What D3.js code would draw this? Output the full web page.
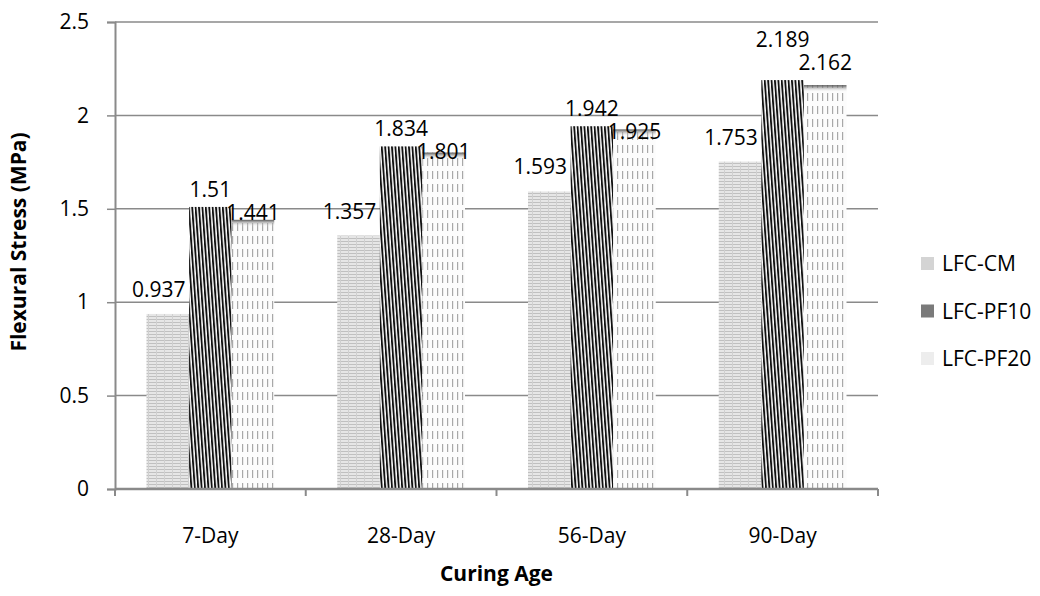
<!DOCTYPE html>
<html>
<head>
<meta charset="utf-8">
<script src="https://cdn.jsdelivr.net/npm/d3@7"></script>
<style>
body { margin: 0; background: #fff; }
svg { font-family: "Open Sans", "Noto Sans", sans-serif; }
</style>
</head>
<body>
<svg width="1040" height="596"></svg>
<script>
var categories = ["7-Day", "28-Day", "56-Day", "90-Day"];
var seriesNames = ["LFC-CM", "LFC-PF10", "LFC-PF20"];
var cmValues = [0.937, 1.357, 1.593, 1.753];
var pf10Values = [1.51, 1.834, 1.942, 2.189];
var pf20Values = [1.441, 1.801, 1.925, 2.162];
var yTicks = [0, 0.5, 1, 1.5, 2, 2.5];

var margin = {top: 22, right: 162, bottom: 107, left: 115};
var width = 1040, height = 596;
var fs = 21;
var svg = d3.select("svg");

// patterns
var defs = svg.append("defs");
var pCM = defs.append("pattern").attr("id", "pCM")
    .attr("patternUnits", "userSpaceOnUse").attr("width", 8).attr("height", 3);
pCM.append("rect").attr("width", 8).attr("height", 3).attr("fill", "#e6e6e6");
pCM.append("rect").attr("y", 1).attr("width", 8).attr("height", 1).attr("fill", "#c0c0c0");
pCM.append("rect").attr("x", 4).attr("width", 1).attr("height", 3).attr("fill", "#d0d0d0");

var pPF10 = defs.append("pattern").attr("id", "pPF10")
    .attr("patternUnits", "userSpaceOnUse").attr("width", 3.4).attr("height", 10)
    .attr("patternTransform", "skewX(4)");
pPF10.append("rect").attr("width", 3.4).attr("height", 10).attr("fill", "#ffffff");
pPF10.append("rect").attr("width", 1.9).attr("height", 10).attr("fill", "#111");

var pPF20 = defs.append("pattern").attr("id", "pPF20")
    .attr("patternUnits", "userSpaceOnUse").attr("width", 5).attr("height", 13);
pPF20.append("rect").attr("width", 5).attr("height", 13).attr("fill", "#fcfcfc");
pPF20.append("rect").attr("x", 2).attr("y", 2).attr("width", 1.2).attr("height", 8).attr("fill", "#a8a8a8");

var topFade = defs.append("linearGradient").attr("id", "topFade")
    .attr("x1", 0).attr("x2", 0).attr("y1", 0).attr("y2", 1);
topFade.append("stop").attr("offset", 0).attr("stop-color", "#444").attr("stop-opacity", 0.9);
topFade.append("stop").attr("offset", 1).attr("stop-color", "#fff").attr("stop-opacity", 0);

var fills = ["url(#pCM)", "url(#pPF10)", "url(#pPF20)"];
var legendFills = ["#d4d4d4", "#7a7a7a", "#ededed"];

var x = d3.scaleBand().domain(categories)
    .range([margin.left, width - margin.right]).paddingInner(0).paddingOuter(0);
var xs = d3.scaleBand().domain(seriesNames)
    .range([31.5, x.bandwidth() - 31.5]);
var y = d3.scaleLinear().domain([0, 2.5])
    .range([height - margin.bottom, margin.top]);

var data = [];
categories.forEach(function (c, i) {
  [cmValues, pf10Values, pf20Values].forEach(function (arr, j) {
    data.push({cat: c, ci: i, series: seriesNames[j], idx: j, value: arr[i]});
  });
});

// gridlines
svg.append("g")
    .selectAll("line").data(yTicks.slice(1)).enter().append("line")
    .attr("x1", margin.left).attr("x2", width - margin.right)
    .attr("y1", function (d) { return y(d); }).attr("y2", function (d) { return y(d); })
    .attr("stroke", "#8a8a8a").attr("stroke-width", 1.5);

// bars
var bars = svg.append("g");
bars.selectAll("rect").data(data).enter().append("rect")
    .attr("x", function (d) { return x(d.cat) + xs(d.series); })
    .attr("y", function (d) { return y(d.value); })
    .attr("width", xs.bandwidth())
    .attr("height", function (d) { return y(0) - y(d.value); })
    .attr("fill", function (d) { return fills[d.idx]; });
bars.selectAll("rect.fade").data(data.filter(function (d) { return d.idx === 2; })).enter().append("rect")
    .attr("class", "fade")
    .attr("x", function (d) { return x(d.cat) + xs(d.series); })
    .attr("y", function (d) { return y(d.value); })
    .attr("width", xs.bandwidth())
    .attr("height", 7)
    .attr("fill", "url(#topFade)");

// value labels (PF10 label sits above, PF20 label stacked beneath it, as in the original)
var lastLift = 23;
function labelY(d) {
  var lift = d.ci === categories.length - 1 ? lastLift : 0;
  if (d.idx === 0) return y(d.value) - 17;
  var pf10Top = y(pf10Values[d.ci]) - 10 - lift;
  return d.idx === 1 ? pf10Top : pf10Top + 23;
}
svg.append("g").selectAll("text").data(data).enter().append("text")
    .attr("x", function (d) { return x(d.cat) + xs(d.series) + xs.bandwidth() / 2 - (d.idx === 0 ? 9 : 0); })
    .attr("y", labelY)
    .attr("text-anchor", "middle")
    .attr("font-size", fs)
    .attr("fill", "#000")
    .text(function (d) { return d.value; });

// axes
var yAxis = svg.append("g")
    .attr("transform", "translate(" + margin.left + ",0)")
    .call(d3.axisLeft(y).tickValues(yTicks).tickSize(8).tickPadding(18)
      .tickFormat(function (d) { return d; }));
yAxis.select(".domain").attr("stroke", "#8a8a8a").attr("stroke-width", 2);
yAxis.selectAll(".tick line").attr("stroke", "#8a8a8a").attr("stroke-width", 1.5);
yAxis.selectAll("text").attr("font-size", fs).attr("fill", "#000")
    .attr("font-family", "Open Sans");

var xAxis = svg.append("g")
    .attr("transform", "translate(0," + y(0) + ")");
xAxis.append("line").attr("x1", margin.left).attr("x2", width - margin.right)
    .attr("stroke", "#8a8a8a").attr("stroke-width", 2.5);
xAxis.selectAll("line.t").data(d3.range(categories.length + 1)).enter().append("line")
    .attr("class", "t")
    .attr("x1", function (i) { return margin.left + i * x.bandwidth(); })
    .attr("x2", function (i) { return margin.left + i * x.bandwidth(); })
    .attr("y1", 0).attr("y2", 7)
    .attr("stroke", "#8a8a8a").attr("stroke-width", 2);
xAxis.selectAll("text").data(categories).enter().append("text")
    .attr("x", function (d) { return x(d) + x.bandwidth() / 2; })
    .attr("y", 54)
    .attr("text-anchor", "middle")
    .attr("font-size", fs)
    .text(function (d) { return d; });

// axis titles
svg.append("text")
    .attr("transform", "translate(26," + 242 + ") rotate(-90)")
    .attr("text-anchor", "middle")
    .attr("font-size", 21).attr("font-weight", "bold")
    .text("Flexural Stress (MPa)");
svg.append("text")
    .attr("x", (margin.left + width - margin.right) / 2)
    .attr("y", 581)
    .attr("text-anchor", "middle")
    .attr("font-size", 21).attr("font-weight", "bold")
    .text("Curing Age");

// legend
var legend = svg.append("g").attr("transform", "translate(921,257)");
var items = legend.selectAll("g").data(seriesNames).enter().append("g")
    .attr("transform", function (d, i) { return "translate(0," + (i * 47.5) + ")"; });
items.append("rect").attr("width", 13).attr("height", 13)
    .attr("fill", function (d, i) { return legendFills[i]; });
items.append("text").attr("x", 21).attr("y", 14)
    .attr("font-size", fs)
    .text(function (d) { return d; });
</script>
</body>
</html>
